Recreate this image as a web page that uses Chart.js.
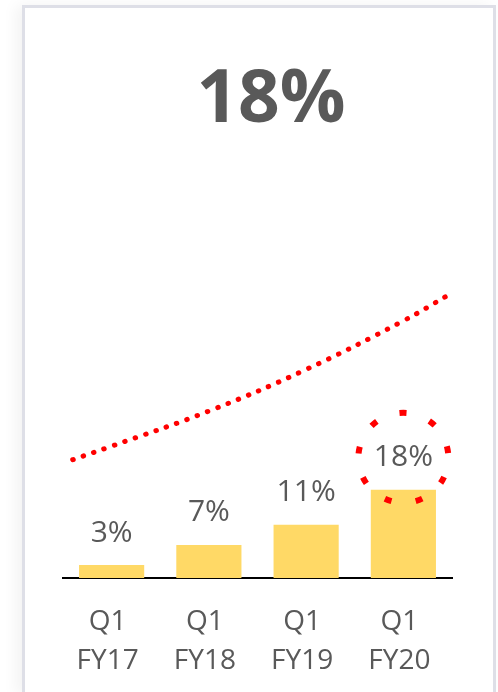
<!DOCTYPE html>
<html>
<head>
<meta charset="utf-8">
<script src="https://cdn.jsdelivr.net/npm/chart.js@4.4.0/dist/chart.umd.min.js"></script>
<style>
  html, body { margin: 0; padding: 0; background: #fff; width: 498px; height: 692px; overflow: hidden; }
  #card {
    position: absolute; left: 22px; top: 5px; width: 468px; height: 684px;
    border: 3px solid #dedfe7; background: #fff;
    box-shadow: -6px 0 14px rgba(0, 0, 0, 0.05);
  }
  #headline {
    position: absolute; left: 0; top: 57px; width: 542px; text-align: center;
    font-family: "Open Sans", sans-serif; font-weight: 700; font-size: 73px; line-height: 74px;
    color: #595959;
  }
  #growthChart { position: absolute; left: 0; top: 0; }
</style>
</head>
<body>
<div id="card"></div>
<div id="headline">18%</div>
<canvas id="growthChart" width="498" height="718"></canvas>
<script>
// categories and values
const quarters = [['Q1', 'FY17'], ['Q1', 'FY18'], ['Q1', 'FY19'], ['Q1', 'FY20']];
const shareValues = [3, 7, 11, 18];
// dotted trend line (x in category index units, y in the same % units as the bars)
const trendX = [-0.4, 0, 1, 2, 3, 3.45];
const trendY = [24.0, 26.7, 33.7, 42.0, 51.7, 56.7];
const highlightIndex = 3;

const textGray = '#595959';

// draws the "3%" style labels above each bar, and the dashed ring round the last one
const barLabels = {
  id: 'barLabels',
  afterDatasetsDraw(chart) {
    const ctx = chart.ctx;
    const meta = chart.getDatasetMeta(0);
    ctx.save();
    ctx.font = '30px "Open Sans"';
    ctx.fillStyle = textGray;
    ctx.textAlign = 'center';
    ctx.textBaseline = 'middle';
    meta.data.forEach((bar, i) => {
      const y = bar.y - 32;
      ctx.fillText(shareValues[i] + '%', bar.x, y);
      if (i === highlightIndex) {
        ctx.beginPath();
        ctx.strokeStyle = '#ff0000';
        ctx.lineWidth = 6;
        ctx.setLineDash([7, 24.4]);
        ctx.arc(bar.x, y, 45, -Math.PI * 0.75, Math.PI * 1.25);
        ctx.stroke();
      }
    });
    ctx.restore();
  }
};

const ctx = document.getElementById('growthChart').getContext('2d');
const growthChart = new Chart(ctx, {
  type: 'bar',
  data: {
    labels: quarters,
    datasets: [{
      label: 'Share',
      data: shareValues,
      backgroundColor: '#FFD966',
      barPercentage: 0.67,
      categoryPercentage: 1,
      grouped: false,
      xAxisID: 'x',
      order: 2
    }, {
      type: 'line',
      label: 'Trend',
      data: trendX.map((x, i) => ({ x: x, y: trendY[i] })),
      xAxisID: 'xl',
      borderColor: '#ff0000',
      borderWidth: 5,
      borderDash: [0.5, 10.5],
      borderCapStyle: 'round',
      pointRadius: 0,
      tension: 0.4,
      fill: false,
      order: 1
    }]
  },
  options: {
    responsive: false,
    animation: false,
    layout: { padding: { top: 177, left: 63, right: 46, bottom: 12 } },
    plugins: {
      legend: { display: false },
      tooltip: { enabled: false },
      title: { display: false }
    },
    scales: {
      x: {
        type: 'category',
        offset: true,
        grid: { display: false, drawTicks: false },
        border: { display: true, color: '#000', width: 2 },
        ticks: {
          color: textGray,
          font: { family: 'Open Sans', size: 28, lineHeight: 1.393 },
          padding: 25,
          labelOffset: -4,
          maxRotation: 0,
          autoSkip: false
        }
      },
      xl: { type: 'linear', position: 'bottom', min: -0.5, max: 3.5, offset: false, display: false },
      y: { min: 0.4, max: 80.4, display: false }
    }
  },
  plugins: [barLabels]
});
</script>
</body>
</html>
